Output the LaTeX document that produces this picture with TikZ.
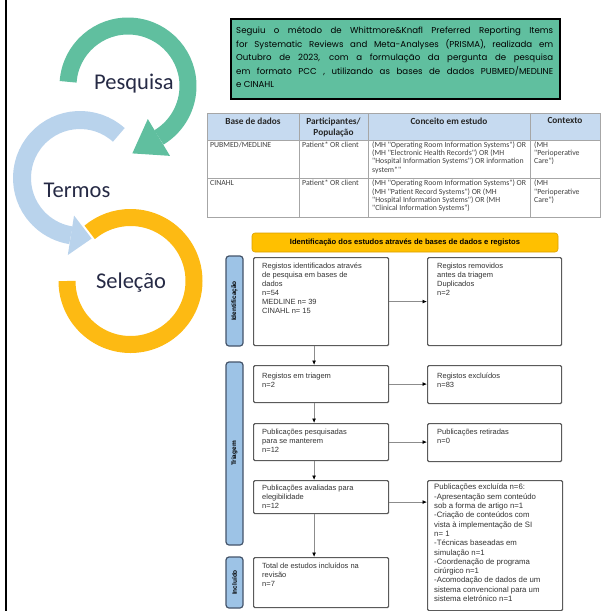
\documentclass[tikz,border=0pt]{standalone}
\usepackage{fontspec}
\setmainfont{Liberation Sans}
\newfontfamily\calibri{Carlito}
\newfontfamily\gothic{Poppins}
\usetikzlibrary{arrows.meta,calc}

\definecolor{ringgreen}{HTML}{60BF9F}
\definecolor{ringblue}{HTML}{B9D3EC}
\definecolor{ringgold}{HTML}{FDBA13}
\definecolor{labelink}{HTML}{262A45}
\definecolor{tablehead}{HTML}{C6DAF0}
\definecolor{tableline}{HTML}{A6A6A6}
\definecolor{sidefill}{HTML}{9DC3E6}
\definecolor{sideline}{HTML}{44546A}
\definecolor{barfill}{HTML}{FFC000}
\definecolor{barline}{HTML}{D9A000}
\definecolor{boxline}{HTML}{5A5A5A}
\definecolor{arrowline}{HTML}{8C8C8C}

\tikzset{
  ringlabel/.style={font=\calibri\fontsize{22.5}{26}\selectfont, text=labelink, inner sep=0pt},
  summarybox/.style={draw=black, line width=2pt, fill=ringgreen, inner sep=0pt,
    minimum width=329pt, minimum height=80pt, anchor=north west},
  summarytext/.style={font=\gothic\fontsize{8.6}{13.6}\selectfont, text width=317pt,
    align=justify, inner sep=0pt, anchor=north west},
  thead/.style={font=\calibri\bfseries\fontsize{9.3}{11.5}\selectfont, text=black!85,
    align=center, inner sep=0pt, anchor=north},
  tcell/.style={font=\calibri\fontsize{7.8}{8.2}\selectfont, text=black!75,
    align=left, inner sep=0pt, anchor=north west},
  topbar/.style={draw=barline, line width=0.6pt, fill=barfill, rounded corners=3pt,
    font=\bfseries\fontsize{7.6}{8.6}\selectfont, inner sep=0pt},
  sidelabel/.style={draw=sideline, line width=1.2pt, fill=sidefill, rounded corners=3pt,
    font=\bfseries\fontsize{6.5}{7.5}\selectfont, inner sep=0pt, rotate=90,
    minimum height=17pt},
  flowbox/.style={draw=boxline, line width=1.2pt, fill=white, rounded corners=1.2pt,
    inner sep=0pt, anchor=north west},
  flowtext/.style={font=\fontsize{7.5}{9}\selectfont, text=black!80, align=left,
    inner sep=0pt, anchor=north west},
  flowarrow/.style={draw=arrowline, line width=0.8pt,
    -{Latex[length=4.5pt,width=4pt,color=black]}},
}

\begin{document}
\begin{tikzpicture}[x=1pt,y=1pt]
\useasboundingbox (0,0) rectangle (601,-611);

% frame rule on the left
\draw[line width=2pt] (6,0) -- (6,-611);

% ---------- circular process arrows ----------
% Selecao ring (no head)
\coordinate (gc3) at (130.5,-281);
\draw[ringgold, line width=17pt] ($(gc3)+(180:63.5)$) arc[start angle=180, end angle=490, radius=63.5];

% Termos ring with head
\coordinate (gc2) at (80,-178);
\draw[ringblue, line width=18pt] ($(gc2)+(48:58)$) arc[start angle=48, end angle=261, radius=58];
\coordinate (bE) at ($(gc2)+(261:58)$);
\fill[ringblue] ($(gc2)+(261:78)$) -- ($(bE)+(351:21)$) -- ($(gc2)+(261:38)$) -- cycle;

% Pesquisa ring with head
\coordinate (gc1) at (128,-86);
\draw[ringgreen, line width=17pt] ($(gc1)+(176:60)$) arc[start angle=176, end angle=-59, radius=60];
\coordinate (gE) at ($(gc1)+(-59:60)$);
\fill[ringgreen] ($(gc1)+(-59:81.5)$) -- ($(gE)+(-149:31)$) -- ($(gc1)+(-59:38.5)$) -- cycle;

\node[ringlabel] (pesquisa) at (134,-84) {Pesquisa};
\node[ringlabel] (termos) at (77,-190) {Termos};
\node[ringlabel] (selecao) at (131,-283) {Seleção};

% ---------- method summary ----------
\node[summarybox] (summary) at (230,-18) {};
\node[summarytext] (summarytxt) at (236,-26.5) {Seguiu o método de Whittmore\&Knafl Preferred Reporting Items\linebreak
for Systematic Reviews and Meta-Analyses (PRISMA), realizada em\linebreak
Outubro de 2023, com a formulação da pergunta de pesquisa\linebreak
em formato PCC , utilizando as bases de dados PUBMED/MEDLINE\linebreak
e CINAHL};

% ---------- search strategy table ----------
\fill[tablehead] (207,-113) rectangle (600,-140);
\draw[tableline, line width=0.8pt] (207,-113) rectangle (600,-217);
\draw[tableline, line width=0.8pt] (207,-140) -- (600,-140);
\draw[tableline, line width=0.8pt] (207,-178) -- (600,-178);
\foreach \cx in {299,368,530} \draw[tableline, line width=0.8pt] (\cx,-113) -- (\cx,-217);

\node[thead] (hbase) at (253,-117.5) {Base de dados};
\node[thead] (hpart) at (333.5,-117.5) {Participantes/\\População};
\node[thead] (hconc) at (449,-117.5) {Conceito em estudo};
\node[thead] (hcont) at (565,-117.5) {Contexto};

\node[tcell] (r1a) at (210,-141.5) {PUBMED/MEDLINE};
\node[tcell] (r1b) at (302,-141.5) {Patient* OR client};
\node[tcell] (r1c) at (372,-141.5) {(MH "Operating Room Information Systems") OR\\
(MH "Electronic Health Records") OR (MH\\
"Hospital Information Systems") OR information\\
system*"};
\node[tcell] (r1d) at (534,-141.5) {(MH\\ "Perioperative\\ Care")};

\node[tcell] (r2a) at (210,-180) {CINAHL};
\node[tcell] (r2b) at (302,-180) {Patient* OR client};
\node[tcell] (r2c) at (372,-180) {(MH "Operating Room Information Systems") OR\\
(MH "Patient Record Systems") OR (MH\\
"Hospital Information Systems") OR (MH\\
"Clinical Information Systems")};
\node[tcell] (r2d) at (534,-180) {(MH\\ "Perioperative\\ Care")};

% ---------- PRISMA flow ----------
\node[topbar, minimum width=306pt, minimum height=19pt] (bar) at (405,-242.5)
  {Identificação dos estudos através de bases de dados e registos};

\node[sidelabel, minimum width=90pt] (sideid) at (234.5,-301) {Identificação};
\node[sidelabel, minimum width=183pt] (sidetri) at (234.5,-453.5) {Triagem};
\node[sidelabel, minimum width=51pt] (sideinc) at (234.5,-582.5) {Incluído};

\node[flowbox, minimum width=135pt, minimum height=88pt] (A) at (253,-257) {};
\node[flowbox, minimum width=134pt, minimum height=88pt] (B) at (427,-257) {};
\node[flowbox, minimum width=135pt, minimum height=37pt] (C) at (253,-365) {};
\node[flowbox, minimum width=134pt, minimum height=38pt] (D) at (427,-365) {};
\node[flowbox, minimum width=135pt, minimum height=37pt] (E) at (253,-423) {};
\node[flowbox, minimum width=134pt, minimum height=38pt] (F) at (427,-423) {};
\node[flowbox, minimum width=135pt, minimum height=33pt] (G) at (253,-480) {};
\node[flowbox, minimum width=135pt, minimum height=130pt] (H) at (427,-480) {};
\node[flowbox, minimum width=135pt, minimum height=50pt] (I) at (253,-557) {};

\node[flowtext] (At) at ($(A.north west)+(9,-6)$) {Registos identificados através\\
de pesquisa em bases de\\ dados\\ n=54\\ MEDLINE n= 39\\ CINAHL n= 15};
\node[flowtext] (Bt) at ($(B.north west)+(10,-6)$) {Registos removidos\\ antes da triagem\\ Duplicados\\ n=2};
\node[flowtext] (Ct) at ($(C.north west)+(9,-8)$) {Registos em triagem\\ n=2};
\node[flowtext] (Dt) at ($(D.north west)+(10,-8)$) {Registos excluídos\\ n=83};
\node[flowtext] (Et) at ($(E.north west)+(9,-6)$) {Publicações pesquisadas\\ para se manterem\\ n=12};
\node[flowtext] (Ft) at ($(F.north west)+(10,-6)$) {Publicações retiradas\\ n=0};
\node[flowtext] (Gt) at ($(G.north west)+(9,-5)$) {Publicações avaliadas para\\ elegibilidade\\ n=12};
\node[flowtext, font=\fontsize{7.8}{9.3}\selectfont] (Ht) at ($(H.north west)+(7,-4)$) {Publicações excluída n=6:\\
-Apresentação sem conteúdo\\ sob a forma de artigo n=1\\
-Criação de conteúdos com\\ vista à implementação de SI\\ n= 1\\
-Técnicas baseadas em\\ simulação n=1\\
-Coordenação de programa\\ cirúrgico n=1\\
-Acomodação de dados de um\\ sistema convencional para um\\ sistema eletrónico n=1};
\node[flowtext] (It) at ($(I.north west)+(9,-6)$) {Total de estudos incluídos na\\ revisão\\ n=7};

% connectors
\draw[flowarrow] (A.east) -- (A.east -| B.west);
\draw[flowarrow] (C.east) -- (C.east -| D.west);
\draw[flowarrow] (E.east) -- (E.east -| F.west);
\draw[flowarrow] ($(G.east)+(0,-5)$) -- ($(G.east -| H.west)+(0,-5)$);
\draw[flowarrow] ($(A.south)+(-7,0)$) -- ($(C.north)+(-7,0)$);
\draw[flowarrow] ($(C.south)+(-7,0)$) -- ($(E.north)+(-7,0)$);
\draw[flowarrow] ($(E.south)+(-7,0)$) -- ($(G.north)+(-7,0)$);
\draw[flowarrow] ($(G.south)+(-7,0)$) -- ($(I.north)+(-7,0)$);
\end{tikzpicture}
\end{document}
